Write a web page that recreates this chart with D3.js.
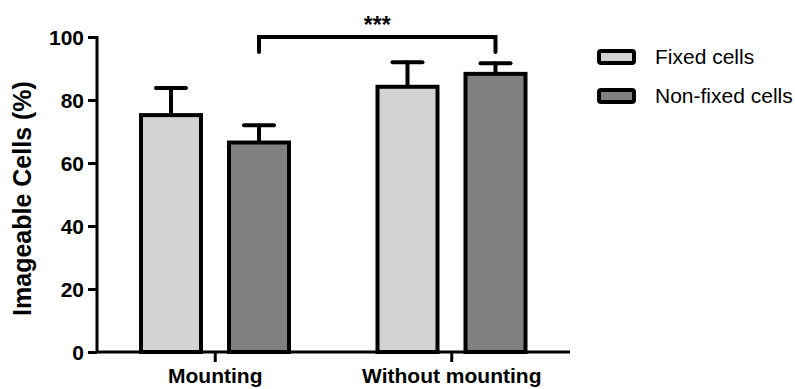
<!DOCTYPE html>
<html>
<head>
<meta charset="utf-8">
<script src="https://cdn.jsdelivr.net/npm/d3@7"></script>
<style>
    body { margin: 0; background: #fff; }
    text { font-family: "Liberation Sans", Arial, sans-serif; }
</style>
</head>
<body>
<div class="chart"></div>
<script>
var groups = ['Mounting', 'Without mounting'];
var series = ['Fixed cells', 'Non-fixed cells'];
var seriesColors = ['#d3d3d3', '#808080'];
var means = [[75.2, 66.5], [84.2, 88.3]];
var errors = [[8.6, 5.5], [7.8, 3.4]];
var yTicks = [0, 20, 40, 60, 80, 100];

var config = {
    w: 795,
    h: 389,
    left: 97,
    right: 570,
    top: 37,
    bottom: 352
};

var svg = d3.select('.chart')
    .append('svg')
    .attr('width', config.w)
    .attr('height', config.h);

var yScale = d3.scaleLinear()
    .domain([0, 100])
    .range([config.bottom, config.top]);

var xScale = d3.scaleBand()
    .domain(groups)
    .range([config.left, config.right])
    .padding(0);

// bars sit inside each group band
var xInner = d3.scaleBand()
    .domain(series)
    .range([44, 192])
    .paddingInner(28 / 88)
    .paddingOuter(0);

var rows = [];
groups.forEach(function (g, gi) {
    series.forEach(function (s, si) {
        rows.push({ group: g, series: s, si: si, mean: means[gi][si], err: errors[gi][si] });
    });
});

var barX = function (d) { return xScale(d.group) + xInner(d.series); };
var barC = function (d) { return barX(d) + xInner.bandwidth() / 2; };

// error bars (behind bars)
var errG = svg.append('g').attr('stroke', '#000').attr('stroke-width', 4).attr('stroke-linecap', 'round');
errG.selectAll('line.stem')
    .data(rows)
    .enter()
    .append('line')
    .attr('x1', barC).attr('x2', barC)
    .attr('y1', function (d) { return yScale(d.mean); })
    .attr('y2', function (d) { return yScale(d.mean + d.err); });
errG.selectAll('line.cap')
    .data(rows)
    .enter()
    .append('line')
    .attr('x1', function (d) { return barC(d) - 15; })
    .attr('x2', function (d) { return barC(d) + 15; })
    .attr('y1', function (d) { return yScale(d.mean + d.err); })
    .attr('y2', function (d) { return yScale(d.mean + d.err); });

svg.selectAll('rect.bar')
    .data(rows)
    .enter()
    .append('rect')
    .attr('class', 'bar')
    .attr('x', barX)
    .attr('y', function (d) { return yScale(d.mean); })
    .attr('width', xInner.bandwidth())
    .attr('height', function (d) { return yScale(0) - yScale(d.mean); })
    .attr('fill', function (d) { return seriesColors[d.si]; })
    .attr('stroke', '#000')
    .attr('stroke-width', 4);

// axes
var yAxis = d3.axisLeft(yScale).tickValues(yTicks).tickSize(9).tickPadding(4);
var yG = svg.append('g')
    .attr('transform', 'translate(' + config.left + ',0)')
    .call(yAxis);
yG.select('.domain').attr('stroke-width', 3).attr('d', 'M0,' + (config.top - 1) + 'V' + config.bottom);
yG.selectAll('.tick line').attr('stroke-width', 3);
yG.selectAll('.tick text')
    .attr('font-size', 21)
    .attr('font-weight', 'bold')
    .attr('fill', '#000')
    .attr('dy', '0.36em');

var xAxis = d3.axisBottom(xScale).tickSize(10).tickPadding(6);
var xG = svg.append('g')
    .attr('transform', 'translate(0,' + config.bottom + ')')
    .call(xAxis);
xG.select('.domain').attr('stroke-width', 3).attr('d', 'M' + (config.left - 1) + ',0H' + config.right);
xG.selectAll('.tick line').attr('stroke-width', 3);
xG.selectAll('.tick text')
    .attr('font-size', 21)
    .attr('font-weight', 'bold')
    .attr('fill', '#000')
    .attr('dy', '0.71em');

svg.append('text')
    .attr('transform', 'translate(31,' + ((config.top + config.bottom) / 2 + 4) + ') rotate(-90)')
    .attr('text-anchor', 'middle')
    .attr('font-size', 25)
    .attr('font-weight', 'bold')
    .text('Imageable Cells (%)');

// significance bracket between non-fixed bars
var bx1 = barC(rows[1]);
var bx2 = barC(rows[3]);
svg.append('path')
    .attr('d', 'M' + bx1 + ',' + yScale(95.2) + 'V' + yScale(100) + 'H' + bx2 + 'V' + yScale(95.2))
    .attr('fill', 'none')
    .attr('stroke', '#000')
    .attr('stroke-width', 4)
    .attr('stroke-linecap', 'round');
svg.append('text')
    .attr('x', (bx1 + bx2) / 2)
    .attr('y', 33)
    .attr('text-anchor', 'middle')
    .attr('font-size', 23)
    .attr('font-weight', 'bold')
    .text('***');

// legend
var legend = svg.append('g').attr('transform', 'translate(599,51)');
var item = legend.selectAll('g')
    .data(series)
    .enter()
    .append('g')
    .attr('transform', function (d, i) { return 'translate(0,' + (i * 39) + ')'; });
item.append('rect')
    .attr('width', 35)
    .attr('height', 12)
    .attr('rx', 2)
    .attr('fill', function (d, i) { return seriesColors[i]; })
    .attr('stroke', '#000')
    .attr('stroke-width', 4);
item.append('text')
    .attr('x', 56)
    .attr('y', 13)
    .attr('font-size', 21)
    .attr('fill', '#000')
    .text(function (d) { return d; });
</script>
</body>
</html>
